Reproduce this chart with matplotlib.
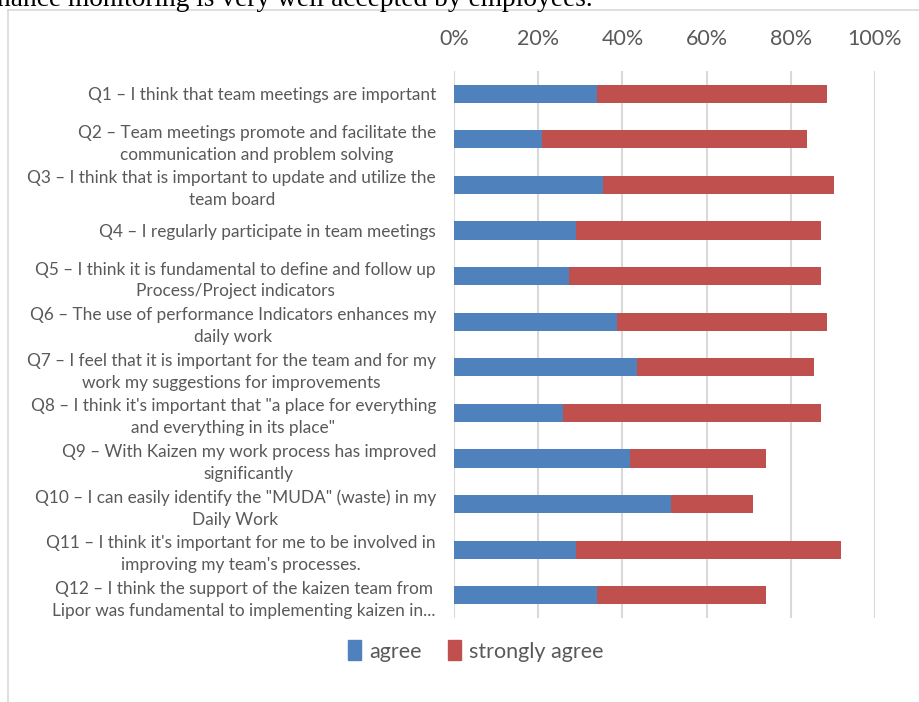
import matplotlib
matplotlib.use("Agg")
import matplotlib.pyplot as plt
from matplotlib.lines import Line2D
import numpy as np

questions = [
    "Q1 – I think that team meetings are important",
    "Q2 – Team meetings promote and facilitate the\ncommunication and problem solving",
    "Q3 – I think that is important to update and utilize the\nteam board",
    "Q4 – I regularly participate in team meetings",
    "Q5 – I think it is fundamental to define and follow up\nProcess/Project indicators",
    "Q6 – The use of performance Indicators enhances my\ndaily work",
    "Q7 – I feel that it is important for the team and for my\nwork my suggestions for improvements",
    "Q8 – I think it's important that \"a place for everything\nand everything in its place\"",
    "Q9 – With Kaizen my work process has improved\nsignificantly",
    "Q10 – I can easily identify the \"MUDA\" (waste) in my\nDaily Work",
    "Q11 – I think it's important for me to be involved in\nimproving my team's processes.",
    "Q12 – I think the support of the kaizen team from\nLipor was fundamental to implementing kaizen in...",
]
agree = [33.9, 21.0, 35.5, 29.0, 27.4, 38.7, 43.5, 25.8, 41.9, 51.6, 29.0, 33.9]
strongly_agree = [54.8, 62.9, 54.8, 58.1, 59.7, 50.0, 41.9, 61.3, 32.3, 19.4, 62.9, 40.3]
series_names = ["agree", "strongly agree"]
xticks = [0, 20, 40, 60, 80, 100]
xtick_labels = ["0%", "20%", "40%", "60%", "80%", "100%"]

BLUE = "#4F81BD"
RED = "#C0504D"
GRAY_TXT = "#595959"
GRID = "#D9D9D9"
FONT = "Lato"

fig = plt.figure(figsize=(9.2, 7.02), dpi=100)
ax = fig.add_axes([454/920, 1-618/702, (875-454)/920, (618-71)/702])

y = np.arange(len(questions))
ax.barh(y, agree, height=0.4, color=BLUE, label=series_names[0], zorder=3)
ax.barh(y, strongly_agree, left=agree, height=0.4, color=RED, label=series_names[1], zorder=3)

ax.set_xlim(0, 100)
ax.set_ylim(len(questions) - 0.5, -0.5)
ax.set_xticks(xticks)
ax.set_xticklabels(xtick_labels, fontsize=15.5, color=GRAY_TXT, fontfamily=FONT)
ax.xaxis.tick_top()
ax.tick_params(axis="x", length=0, pad=16)
ax.set_yticks(y)
ax.set_yticklabels(questions, fontsize=12.4, color=GRAY_TXT, fontfamily=FONT, linespacing=1.45)
for lab in ax.get_yticklabels():
    lab.set_multialignment("center")
ax.tick_params(axis="y", length=0, pad=13)
ax.grid(axis="x", color=GRID, linewidth=1.5, zorder=0)
for s in ax.spines.values():
    s.set_visible(False)

handles = [plt.Rectangle((0, 0), 1, 1, color=BLUE), plt.Rectangle((0, 0), 1, 1, color=RED)]
fig.legend(handles, series_names, loc="center", bbox_to_anchor=(476/920, 1-651/702),
           ncol=2, frameon=False, handlelength=0.6, handleheight=1.0, handletextpad=0.4,
           columnspacing=1.2, prop={"family": FONT, "size": 15.5}, labelcolor=GRAY_TXT)

# chart border (partially visible)
fig.add_artist(Line2D([8/920, 1], [1-10/702, 1-10/702], color=GRID, linewidth=1.2, transform=fig.transFigure))
fig.add_artist(Line2D([8/920, 8/920], [0, 1-10/702], color=GRID, linewidth=1.2, transform=fig.transFigure))

# cut-off document text above the chart
fig.text(-3/920, 1-6/702, "nance monitoring is very well accepted by employees.",
         fontsize=19.7, family="Liberation Serif", color="black", ha="left", va="baseline")

fig.savefig("out.png", dpi=100)
